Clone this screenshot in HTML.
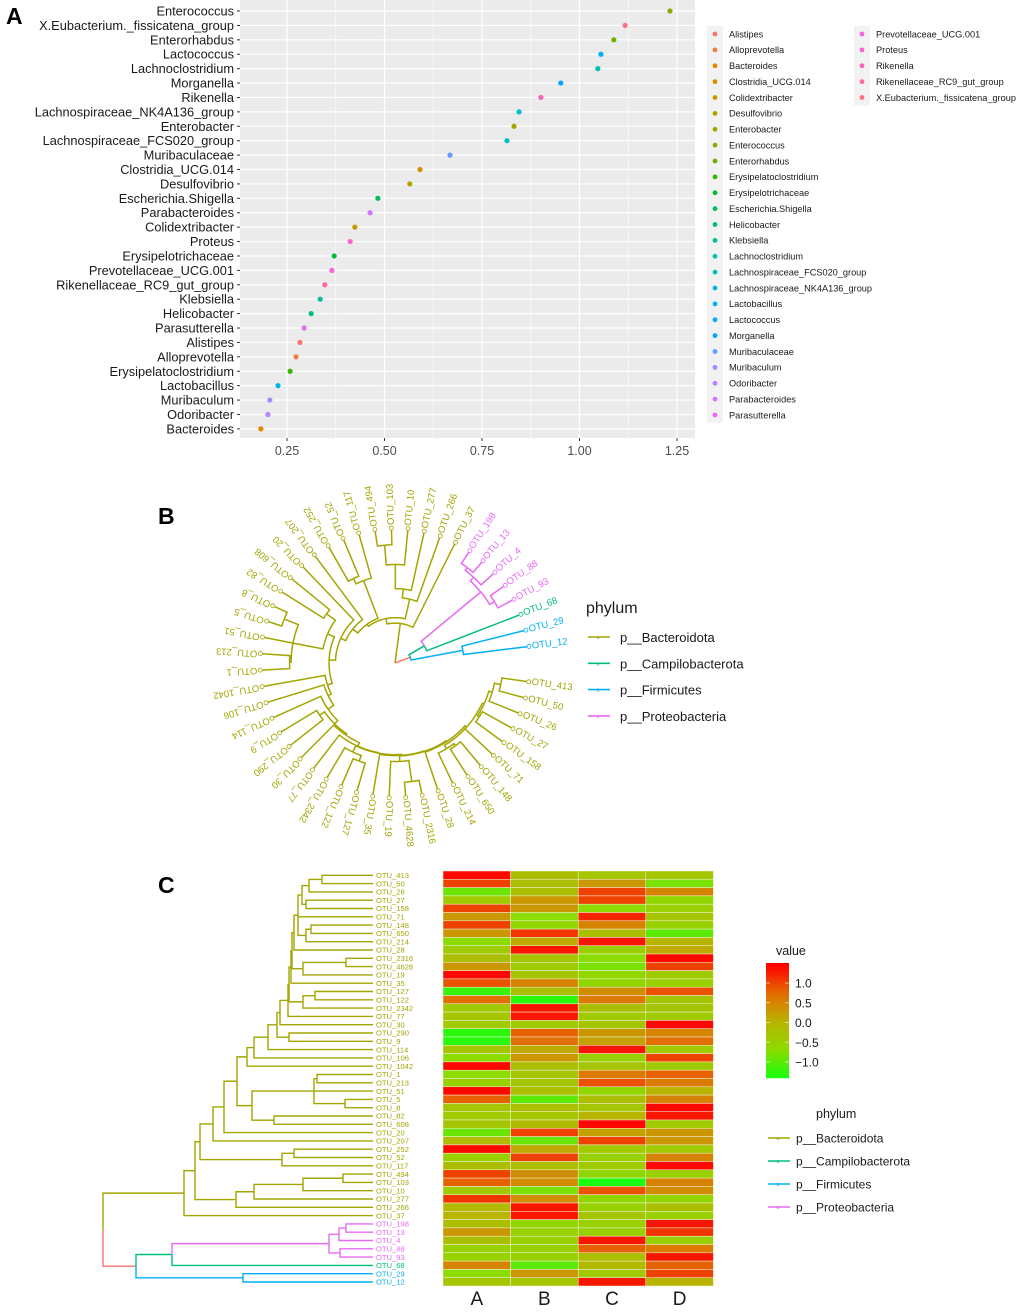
<!DOCTYPE html>
<html><head><meta charset="utf-8"><style>
body{margin:0;background:#fff}
svg text{font-family:"Liberation Sans",Arial,sans-serif}
</style></head><body>
<svg id="fig" width="1020" height="1311" xmlns="http://www.w3.org/2000/svg">
<rect width="1020" height="1311" fill="#fff"/>
<text x="6" y="24" font-size="23" font-weight="bold">A</text>
<text x="158" y="524" font-size="23" font-weight="bold">B</text>
<text x="158" y="893" font-size="23" font-weight="bold">C</text>
<g id="pa"></g>
<g id="pb"></g>
<g id="pc"></g>
</svg>
<script>
// ---------- Panel A data ----------
const genera = ["Enterococcus","X.Eubacterium._fissicatena_group","Enterorhabdus","Lactococcus","Lachnoclostridium","Morganella","Rikenella","Lachnospiraceae_NK4A136_group","Enterobacter","Lachnospiraceae_FCS020_group","Muribaculaceae","Clostridia_UCG.014","Desulfovibrio","Escherichia.Shigella","Parabacteroides","Colidextribacter","Proteus","Erysipelotrichaceae","Prevotellaceae_UCG.001","Rikenellaceae_RC9_gut_group","Klebsiella","Helicobacter","Parasutterella","Alistipes","Alloprevotella","Erysipelatoclostridium","Lactobacillus","Muribaculum","Odoribacter","Bacteroides"];
const scores = [1.232,1.117,1.088,1.055,1.047,0.952,0.901,0.845,0.832,0.814,0.668,0.591,0.565,0.483,0.463,0.424,0.412,0.371,0.365,0.347,0.335,0.312,0.294,0.283,0.273,0.258,0.227,0.206,0.201,0.183];
const xTicks = [0.25,0.50,0.75,1.00,1.25];
const xTickLabels = ["0.25","0.50","0.75","1.00","1.25"];

// ---------- Panel C heatmap data (rows = tips in tree order, cols A-D) ----------
const hmCols = ["A","B","C","D"];
const hmA = [1.4,1.0,-0.9,-0.4,1.0,0.3,1.0,0.3,-0.7,-0.4,-0.2,0.3,1.4,0.9,-1.2,0.7,-0.4,-0.3,-0.4,-1.3,-1.3,-0.3,-0.7,1.4,-0.7,-0.5,1.4,0.8,-0.3,-0.4,-0.3,-0.9,-0.1,1.4,-0.5,-0.2,1.0,0.8,-0.4,1.1,-0.1,0.0,-0.2,0.3,-0.2,-0.5,-0.5,0.5,-0.7,-0.3];
const hmB = [-0.2,-0.2,-0.2,0.3,0.3,-0.7,-0.6,1.1,0.1,1.3,-0.3,-0.4,-0.3,0.5,-0.2,-1.3,1.3,1.3,-0.4,0.8,0.7,0.1,0.3,-0.2,-0.3,-0.3,-0.2,-1.0,-0.2,-0.3,-0.1,1.0,-0.9,0.1,1.0,-0.2,0.4,0.4,-0.8,0.4,1.3,1.3,-0.6,-0.5,-0.5,-0.5,-0.5,-1.0,0.3,-0.3];
const hmC = [-0.3,0.3,1.0,1.0,-0.7,1.2,0.5,-0.2,1.3,-0.5,-0.7,-0.8,-0.6,-0.6,0.4,0.6,-0.2,-0.4,-0.3,0.3,0.2,1.3,-0.5,-0.3,0.6,0.9,-0.6,-0.2,-0.3,0.0,1.4,0.2,1.0,-0.4,-0.5,-0.4,-0.6,-1.4,0.9,-0.6,-0.5,-0.3,-0.5,-0.5,1.3,0.8,-0.2,-0.1,-0.4,1.3];
const hmD = [-0.3,-0.8,0.5,-0.6,-0.5,-0.3,-0.5,-1.0,0.0,0.1,1.4,1.0,-0.4,-0.5,0.9,-0.3,-0.3,-0.4,1.4,0.5,0.7,-0.4,1.0,-0.4,0.8,0.6,0.0,0.5,1.4,1.3,-0.4,0.3,0.3,-0.4,0.5,1.4,-0.5,0.5,0.4,-0.6,-0.2,-0.5,1.3,1.1,-0.5,0.6,1.3,0.8,1.0,0.0];
const cbTicks = [1.0,0.5,0.0,-0.5,-1.0];
const cbTickLabels = ["1.0","0.5","0.0","\u22120.5","\u22121.0"];
const phyla = ["p__Bacteroidota","p__Campilobacterota","p__Firmicutes","p__Proteobacteria"];

// ---------- helpers ----------
const NS="http://www.w3.org/2000/svg";
function mk(parent,tag,attrs,text){const e=document.createElementNS(NS,tag);for(const k in attrs)e.setAttribute(k,attrs[k]);if(text!==undefined)e.textContent=text;parent.appendChild(e);return e;}
function hcl(h,c,l){const hr=h*Math.PI/180;const u=c*Math.cos(hr),v=c*Math.sin(hr);const Yn=100,un=0.1978398,vn=0.4683363;
 const Y=Yn*Math.pow((l+16)/116,3);const up=u/(13*l)+un,vp=v/(13*l)+vn;const X=Y*9*up/(4*vp);const Z=Y*(12-3*up-20*vp)/(4*vp);
 const x=X/100,y=Y/100,z=Z/100;let r=3.2404542*x-1.5371385*y-0.4985314*z,g=-0.9692660*x+1.8760108*y+0.0415560*z,b=0.0556434*x-0.2040259*y+1.0572252*z;
 const gm=t=>{t=t<=0.0031308?12.92*t:1.055*Math.pow(t,1/2.4)-0.055;return Math.round(Math.max(0,Math.min(1,t))*255);};
 return `rgb(${gm(r)},${gm(g)},${gm(b)})`;}

// ---------- Panel A ----------
(function(){
 const g=document.getElementById('pa');
 const x0=240,x1=695,y0=0,y1=438;
 const sx=v=>189.5+v*390;
 const rowY=i=>11+i*14.41;
 const sorted=[...genera].sort((a,b)=>a.localeCompare(b,'en',{sensitivity:'base'}));
 const col={};sorted.forEach((n,i)=>col[n]=hcl(15+12*i,100,65));
 const bg=mk(g,'rect',{x:x0,y:y0,width:x1-x0,height:y1-y0,fill:'#EBEBEB'});
 
 for(let i=0;i<xTicks.length-1;i++){const m=sx((xTicks[i]+xTicks[i+1])/2);mk(g,'line',{x1:m,x2:m,y1:y0,y2:y1,stroke:'#fff','stroke-width':0.6});}
 mk(g,'line',{x1:sx(0.125),x2:sx(0.125),y1:y0,y2:y1,stroke:'#fff','stroke-width':0.6});
 xTicks.forEach((t,i)=>{const x=sx(t);mk(g,'line',{x1:x,x2:x,y1:y0,y2:y1,stroke:'#fff','stroke-width':1.2});
  mk(g,'line',{x1:x,x2:x,y1:y1,y2:y1+3,stroke:'#333','stroke-width':1});
  const tl=mk(g,'text',{x:x,y:y1+17,'font-size':12.5,'text-anchor':'middle',fill:'#4d4d4d'},xTickLabels[i]);
  });
 genera.forEach((n,i)=>{const y=rowY(i);mk(g,'line',{x1:x0,x2:x1,y1:y,y2:y,stroke:'#fff','stroke-width':1.2});
  mk(g,'line',{x1:x0-3,x2:x0,y1:y,y2:y,stroke:'#333','stroke-width':1});
  const t=mk(g,'text',{x:x0-6,y:y+4.5,'font-size':12.8,'text-anchor':'end',fill:'#1a1a1a'},n);
  
  const d=mk(g,'circle',{cx:sx(scores[i]),cy:y,r:2.6,fill:col[n]});
  });
 // legend
 const lg=mk(g,'g',{});
 const sp=15.875;
 mk(lg,'rect',{x:707,y:26,width:16,height:25*sp,fill:'#F2F2F2'});
 mk(lg,'rect',{x:854,y:26,width:16,height:5*sp,fill:'#F2F2F2'});
 sorted.forEach((n,i)=>{const c=i<25?0:1,r=i<25?i:i-25;const kx=c?862:715,tx=c?876:729,y=34+r*sp;
  mk(lg,'circle',{cx:kx,cy:y,r:2.4,fill:col[n]});
  const t=mk(lg,'text',{x:tx,y:y+3.3,'font-size':9.2,fill:'#1a1a1a'},n);
  });
})();

// ---------- Tree (shared by B and C) ----------
const O='#A3A500',G='#00BF7D',B='#00B0F6',M='#E76BF3',R='#F8766D';
function N(x,c,...ch){return {x,c,ch};}
const a1=N(309,O,N(322,O,'413','50'),'26');
const a2=N(306,O,'27','158');
const a3=N(302,O,a1,a2);
const a4=N(306,O,N(311,O,'148','650'),'214');
const a5=N(298,O,a3,'71',a4);
const X1=N(294,O,a5,'28');
const X2=N(292,O,X1,N(303,O,N(346,O,'2316','4628'),'19'));
const X3=N(291,O,X2,'35');
const X4=N(289,O,X3,N(303,O,N(315,O,'127','122'),'2342'));
const X5=N(288,O,X4,'77');
const X6=N(280,O,X5,'30');
const X7=N(277,O,X6,N(289,O,'290','9'));
const X8=N(268,O,X7,'114');
const X9=N(254,O,X8,'106');
const X10=N(247,O,X9,'1042');
const Yc=N(252,O,N(314,O,N(317,O,'1','213'),'51',N(345,O,'5','8')),N(274,O,'82','608'));
const Z1=N(237,O,X10,Yc);
const Z2=N(224,O,Z1,'20');
const Z3=N(213,O,Z2,'207');
const Z4=N(200,O,Z3,N(282,O,N(294,O,'252','52'),'117'));
const Z5=N(195,O,Z4,N(236,O,N(254,O,N(303,O,N(343,O,'494','103'),'10'),'277'),'266'));
const Z6=N(184,O,Z5,'37');
const Pr=N(329,M,N(339,M,N(346,M,'198','13'),'4'),N(340,M,'88','93'));
const PG=N(172,G,Pr,'68');
const Lw=N(136,R,PG,N(243,B,'29','12'));
const root=N(103,R,Z6,Lw);
const tipCol={'198':M,'13':M,'4':M,'88':M,'93':M,'68':G,'29':B,'12':B};
const TIPX=373;
const tips=[];
function layout(n){if(typeof n==='string'){const o={tip:n,x:TIPX,c:tipCol[n]||O,k:tips.length};tips.push(o);return o;}
 const kids=n.ch.map(layout);n.kids=kids;n.k=(kids[0].k+kids[kids.length-1].k)/2;return n;}
layout(root);

// ---------- Panel C ----------
(function(){
 const g=document.getElementById('pc');
 const rowY=k=>875.3+k*8.3;
 function draw(n){if(!n.kids)return;const py=rowY(n.k);
  n.kids.forEach(ch=>{const cy=rowY(ch.k);
   const p=mk(g,'path',{d:`M${n.x},${py}V${cy}H${ch.x}`,fill:'none',stroke:ch.c,'stroke-width':1.4});
   draw(ch);});}
 draw(root);
 tips.forEach(t=>{const l=mk(g,'text',{x:376,y:rowY(t.k)+2.7,'font-size':7.6,fill:t.c},'OTU_'+t.tip);
  });
 const stops=[[-1.45,[16,255,16]],[-0.7,[140,220,0]],[0,[184,180,0]],[0.7,[226,112,0]],[1.45,[255,0,0]]];
 function vc(v){v=Math.max(-1.45,Math.min(1.45,v));for(let i=0;i<stops.length-1;i++){const[a,ca]=stops[i],[b,cb]=stops[i+1];if(v<=b){const t=(v-a)/(b-a);return `rgb(${ca.map((c,j)=>Math.round(c+(cb[j]-c)*t)).join(',')})`;}}return 'red';}
 const cols=[hmA,hmB,hmC,hmD];const hx=443,cw=67.6,ht=871,rh=8.3;
 cols.forEach((arr,ci)=>{arr.forEach((v,ri)=>{const r=mk(g,'rect',{x:hx+ci*cw,y:ht+ri*rh,width:cw,height:rh,fill:vc(v),stroke:'#f4f4e0','stroke-width':0.5});
   });
  const t=mk(g,'text',{x:hx+ci*cw+cw/2,y:1305,'font-size':19,'text-anchor':'middle',fill:'#1a1a1a'},hmCols[ci]);
  });
 // colorbar
 const cb=mk(g,'g',{});
 mk(cb,'text',{x:776,y:955,'font-size':12.5,fill:'#1a1a1a'},'value');
 const cy=v=>1022.5-v*39.5;const top=963,bot=1078;
 for(let y=top;y<bot;y+=1){const v=(1022.5-y-0.5)/39.5;mk(cb,'rect',{x:766,y:y,width:23,height:1.2,fill:vc(v)});}
 cbTicks.forEach((t,i)=>{const y=cy(t);mk(cb,'line',{x1:766,x2:770,y1:y,y2:y,stroke:'#fff','stroke-width':0.8,opacity:0.7});mk(cb,'line',{x1:785,x2:789,y1:y,y2:y,stroke:'#fff','stroke-width':0.8,opacity:0.7});
  mk(cb,'text',{x:795,y:y+4.5,'font-size':12,fill:'#1a1a1a'},cbTickLabels[i]);});
 const pl=mk(g,'g',{});
 mk(pl,'text',{x:816,y:1118,'font-size':12.5,fill:'#1a1a1a'},'phylum');
 [O,G,B,M].forEach((c,i)=>{const y=1138+i*23;mk(pl,'line',{x1:768,x2:790,y1:y,y2:y,stroke:c,'stroke-width':1.6});
  mk(pl,'text',{x:776.5,y:y+2,'font-size':5,fill:c},'a');
  const t=mk(pl,'text',{x:796,y:y+4.5,'font-size':12,fill:'#1a1a1a'},phyla[i]);});
})();

// ---------- Panel B ----------
(function(){
 const g=document.getElementById('pb');
 const cx=395,cy=663;
 const ang=k=>(-8-k*7.04)*Math.PI/180;
 const rad=x=>133*Math.max(0,x-103)/270;
 const pt=(r,a)=>[cx+r*Math.cos(a),cy-r*Math.sin(a)];
 function draw(n){if(!n.kids)return;const pr=rad(n.x),pa=ang(n.k);
  n.kids.forEach(ch=>{const ca=ang(ch.k);let d='';const steps=Math.max(2,Math.ceil(Math.abs(ca-pa)*pr/3));
   for(let s=0;s<=steps;s++){const a=pa+(ca-pa)*s/steps;const p=pt(pr,a);d+=(s?'L':'M')+p[0].toFixed(1)+','+p[1].toFixed(1);}
   const e=pt(rad(ch.x),ca);d+='L'+e[0].toFixed(1)+','+e[1].toFixed(1);
   const p=mk(g,'path',{d,fill:'none',stroke:ch.c,'stroke-width':1.5});
   draw(ch);});}
 draw(root);
 tips.forEach(t=>{const a=ang(t.k);const r=rad(TIPX);const c=pt(r+2,a);
  mk(g,'circle',{cx:c[0],cy:c[1],r:2,fill:'none',stroke:t.c,'stroke-width':0.8});
  const lp=pt(r+5,a);const deg=-a*180/Math.PI;
  const l=mk(g,'text',{x:lp[0],y:lp[1],'font-size':9.5,fill:t.c,'text-anchor':'start','dominant-baseline':'central',transform:`rotate(${deg.toFixed(1)} ${lp[0].toFixed(1)} ${lp[1].toFixed(1)})`},'OTU_'+t.tip);
  });
 const pl=mk(g,'g',{});
 mk(pl,'text',{x:586,y:613,'font-size':16,fill:'#1a1a1a'},'phylum');
 [O,G,B,M].forEach((c,i)=>{const y=637+i*26.3;mk(pl,'line',{x1:588,x2:610,y1:y,y2:y,stroke:c,'stroke-width':1.6});
  mk(pl,'text',{x:596.5,y:y+2,'font-size':5,fill:c},'a');
  const t=mk(pl,'text',{x:620,y:y+5,'font-size':13,fill:'#1a1a1a'},phyla[i]);});
})();
</script>
</body></html>
